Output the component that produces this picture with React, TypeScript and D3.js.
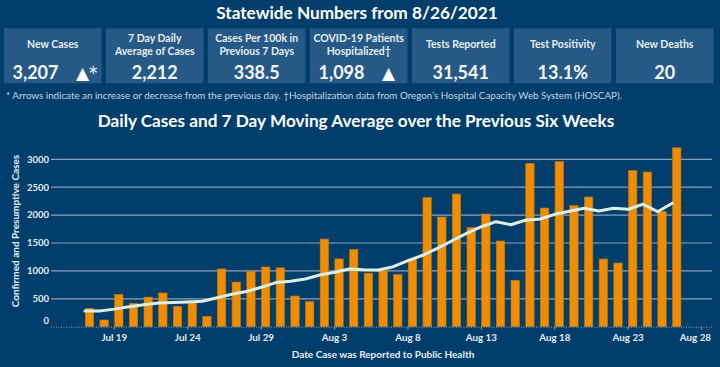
import React, { useEffect } from 'react';
import * as d3 from 'd3';

// 上部のカード
const cardLabels: string[][] = [
  ['New Cases'],
  ['7 Day Daily', 'Average of Cases'],
  ['Cases Per 100k in', 'Previous 7 Days'],
  ['COVID-19 Patients', 'Hospitalized†'],
  ['Tests Reported'],
  ['Test Positivity'],
  ['New Deaths'],
];
const cardValues = ['3,207', '2,212', '338.5', '1,098', '31,541', '13.1%', '20'];
const cardArrows = ['▲*', '', '', '▲', '', '', ''];

// 日別データ (7/17 - 8/26)
const firstDay = new Date(2021, 6, 17);
const lastDay = new Date(2021, 7, 26);
const dailyCases = [
  330, 120, 580, 420, 530, 605, 365, 425, 185, 1035, 800, 995, 1070, 1055, 550,
  450, 1570, 1215, 1385, 960, 1005, 935, 1210, 2312, 1966, 2378, 1781, 2020,
  1536, 831, 2928, 2127, 2964, 2169, 2324, 1213, 1141, 2796, 2772, 2061, 3207,
];
const movingAvg = [
  281, 281, 315, 357, 395, 425, 435, 443, 455, 520, 580, 630, 706, 790, 813,
  855, 927, 975, 1034, 1022, 1016, 1075, 1183, 1280, 1405, 1541, 1674, 1792,
  1882, 1828, 1907, 1930, 2014, 2068, 2122, 2073, 2122, 2104, 2194, 2061, 2212,
];
const yTicks = [0, 500, 1000, 1500, 2000, 2500, 3000];

const BG = '#013e6b';
const CARD = '#265985';
const ORANGE = '#f08c00';
const GRID = '#8aa3bb';
const TXT = '#e6edf3';
const FONT = 'Lato, "Open Sans", sans-serif';

const W = 720;
const H = 367;

const App = () => {
  useEffect(() => {
    document.body.style.margin = '0';
  }, []);

  const days = d3.timeDay.range(firstDay, d3.timeDay.offset(lastDay, 1));

  // 軸の範囲 (Tableauの余白に合わせる)
  const x = d3
    .scaleTime()
    .domain([new Date(2021, 6, 14, 16, 30), new Date(2021, 7, 28, 17, 0)])
    .range([51, 712]);
  const y = d3.scaleLinear().domain([0, 3000]).range([326.7, 159.3]);

  const xTicks = d3.timeDay.range(new Date(2021, 6, 19), new Date(2021, 7, 29), 5);
  const fmt = d3.timeFormat('%b %-d');

  const line = d3
    .line<number>()
    .x((_, i) => x(days[i]))
    .y((d) => y(d));

  const cardW = 97.5;
  const cardStep = 102;

  return (
    <svg width={W} height={H} style={{ display: 'block', fontFamily: FONT }}>
      <rect width={W} height={H} fill={BG} />

      <text x={357} y={18.5} textAnchor="middle" fill="#fff" fontSize={17.2} fontWeight="bold">
        Statewide Numbers from 8/26/2021
      </text>

      {cardLabels.map((lines, i) => {
        const cx = 4 + i * cardStep;
        const mid = cx + cardW / 2;
        const hasArrow = cardArrows[i] !== '';
        return (
          <g key={i}>
            <rect x={cx} y={28.3} width={cardW} height={55} fill={CARD} />
            {lines.map((t, j) => (
              <text
                key={j}
                x={mid}
                y={lines.length === 1 ? 48.3 : 41.7 + j * 13.3}
                textAnchor="middle"
                fill={TXT}
                fontSize={10.5}
                fontWeight="bold"
              >
                {t}
              </text>
            ))}
            <text
              x={hasArrow ? cx + 8.5 : mid}
              y={79.3}
              textAnchor={hasArrow ? 'start' : 'middle'}
              fill="#f4f7fa"
              fontSize={18}
              fontWeight="bold"
            >
              {cardValues[i]}
            </text>
            {hasArrow && (
              <text x={cx + 72} y={79.3} fill="#fff" fontSize={17} fontFamily="DejaVu Sans">
                {cardArrows[i]}
              </text>
            )}
          </g>
        );
      })}

      <text x={6} y={99} fill="#c9d6e2" fontSize={9.8}>
        * Arrows indicate an increase or decrease from the previous day. †Hospitalization data from Oregon’s Hospital Capacity Web System (HOSCAP).
      </text>

      <text x={356} y={127} textAnchor="middle" fill="#fff" fontSize={17.2} fontWeight="bold">
        Daily Cases and 7 Day Moving Average over the Previous Six Weeks
      </text>

      {/* グリッド */}
      {yTicks.slice(1).map((t) => (
        <line key={t} x1={51} x2={712} y1={y(t)} y2={y(t)} stroke={GRID} strokeWidth={1.2} />
      ))}
      {yTicks.map((t) => (
        <text
          key={t}
          x={49}
          y={t === 0 ? y(t) - 6.5 : y(t)}
          dy="0.35em"
          textAnchor="end"
          fill={TXT}
          fontSize={9.5}
          fontWeight="bold"
        >
          {t}
        </text>
      ))}
      <text
        transform="translate(19,231) rotate(-90)"
        textAnchor="middle"
        fill={TXT}
        fontSize={10}
        fontWeight="bold"
      >
        Confirmed and Presumptive Cases
      </text>

      {/* 棒 */}
      {dailyCases.map((v, i) => (
        <rect
          key={i}
          x={x(days[i]) + 0.3}
          y={y(v)}
          width={8.4}
          height={y(0) - y(v)}
          fill={ORANGE}
          stroke="#c97600"
          strokeWidth={0.6}
        />
      ))}

      {/* x軸 */}
      <line x1={51} x2={712} y1={y(0) + 0.5} y2={y(0) + 0.5} stroke={GRID} strokeWidth={1} strokeDasharray="1,1.5" />
      {xTicks.map((d, i) => {
        const last = i === xTicks.length - 1;
        return (
          <g key={i}>
            <line x1={x(d)} x2={x(d)} y1={y(0)} y2={y(0) + 3} stroke={GRID} />
            <text
              x={last ? 711 : x(d)}
              y={341}
              textAnchor={last ? 'end' : 'middle'}
              fill={TXT}
              fontSize={9.8}
              fontWeight="bold"
            >
              {fmt(d)}
            </text>
          </g>
        );
      })}
      <text x={383} y={358} textAnchor="middle" fill={TXT} fontSize={10} fontWeight="bold">
        Date Case was Reported to Public Health
      </text>

      {/* 7日移動平均 */}
      <path
        d={line(movingAvg) ?? ''}
        fill="none"
        stroke="#dcefe6"
        strokeWidth={3}
        strokeLinejoin="round"
        strokeLinecap="round"
      />
    </svg>
  );
};

export default App;
